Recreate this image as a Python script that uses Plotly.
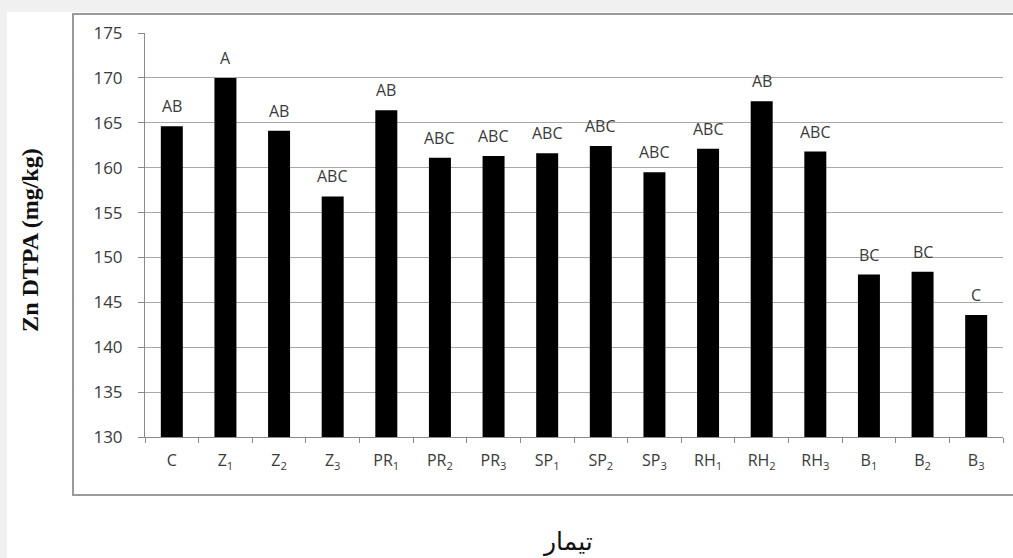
import plotly.graph_objects as go

# Treatments and their DTPA-extractable zinc (mg/kg) with mean-separation letters
treatments = ["C", "Z<sub>1</sub>", "Z<sub>2</sub>", "Z<sub>3</sub>",
              "PR<sub>1</sub>", "PR<sub>2</sub>", "PR<sub>3</sub>",
              "SP<sub>1</sub>", "SP<sub>2</sub>", "SP<sub>3</sub>",
              "RH<sub>1</sub>", "RH<sub>2</sub>", "RH<sub>3</sub>",
              "B<sub>1</sub>", "B<sub>2</sub>", "B<sub>3</sub>"]
zn_dtpa = [164.6, 170.0, 164.1, 156.8, 166.4, 161.1, 161.3, 161.6,
           162.4, 159.5, 162.1, 167.4, 161.8, 148.1, 148.4, 143.6]
letters = ["AB", "A", "AB", "ABC", "AB", "ABC", "ABC", "ABC",
           "ABC", "ABC", "ABC", "AB", "ABC", "BC", "BC", "C"]
y_ticks = [130, 135, 140, 145, 150, 155, 160, 165, 170, 175]

text_font = dict(family="Open Sans", size=16, color="#3a3a3a")

fig = go.Figure()
fig.add_trace(go.Bar(
    x=treatments, y=zn_dtpa, width=0.41,
    marker=dict(color="black", line=dict(width=0)),
    hoverinfo="x+y",
))

# Significance letters above each bar
for cat, val, lab in zip(treatments, zn_dtpa, letters):
    fig.add_annotation(x=cat, y=val, text=lab, showarrow=False,
                       yanchor="bottom", yshift=7, font=text_font)

# White chart sheet and bordered chart box behind the plot
fig.add_shape(type="rect", xref="paper", yref="paper",
              x0=-0.1608, x1=1.02, y0=-0.31, y1=1.052,
              fillcolor="white", line=dict(width=0), layer="below")
fig.add_shape(type="rect", xref="paper", yref="paper",
              x0=-0.0839, x1=1.03, y0=-0.1436, y1=1.047,
              fillcolor="rgba(0,0,0,0)", line=dict(color="#9a9a9a", width=2),
              layer="below")

# Axis titles
fig.add_annotation(xref="paper", yref="paper", x=-0.134, y=0.488,
                   xanchor="center", yanchor="middle",
                   text="<b>Zn DTPA (mg/kg)</b>", textangle=-90, showarrow=False,
                   font=dict(family="Liberation Serif", size=24, color="#111"))
fig.add_annotation(xref="paper", yref="paper", x=0.493, y=-0.258,
                   xanchor="center", yanchor="middle",
                   text="تیمار", showarrow=False,
                   font=dict(family="DejaVu Sans", size=25, color="#111"))

fig.update_layout(
    width=1013, height=558,
    margin=dict(l=145, r=10, t=33, b=121),
    paper_bgcolor="#f0f0f0",
    plot_bgcolor="white",
    showlegend=False,
    bargap=0.59,
)
fig.update_xaxes(
    type="category", tickson="boundaries", ticks="outside", ticklen=5,
    tickcolor="#8a8a8a", showline=True, linecolor="#8a8a8a", linewidth=1,
    showgrid=False, tickfont=text_font, ticklabelstandoff=9,
)
fig.update_yaxes(
    range=[130, 175], tickvals=y_ticks, ticks="outside", ticklen=6,
    tickcolor="#8a8a8a", showline=True, linecolor="#8a8a8a", linewidth=1,
    showgrid=True, gridcolor="#a8a8a8", gridwidth=1, zeroline=False,
    tickfont=dict(family="Open Sans", size=17, color="#3a3a3a"),
    ticklabelstandoff=12,
)

fig.write_html("out.html")
